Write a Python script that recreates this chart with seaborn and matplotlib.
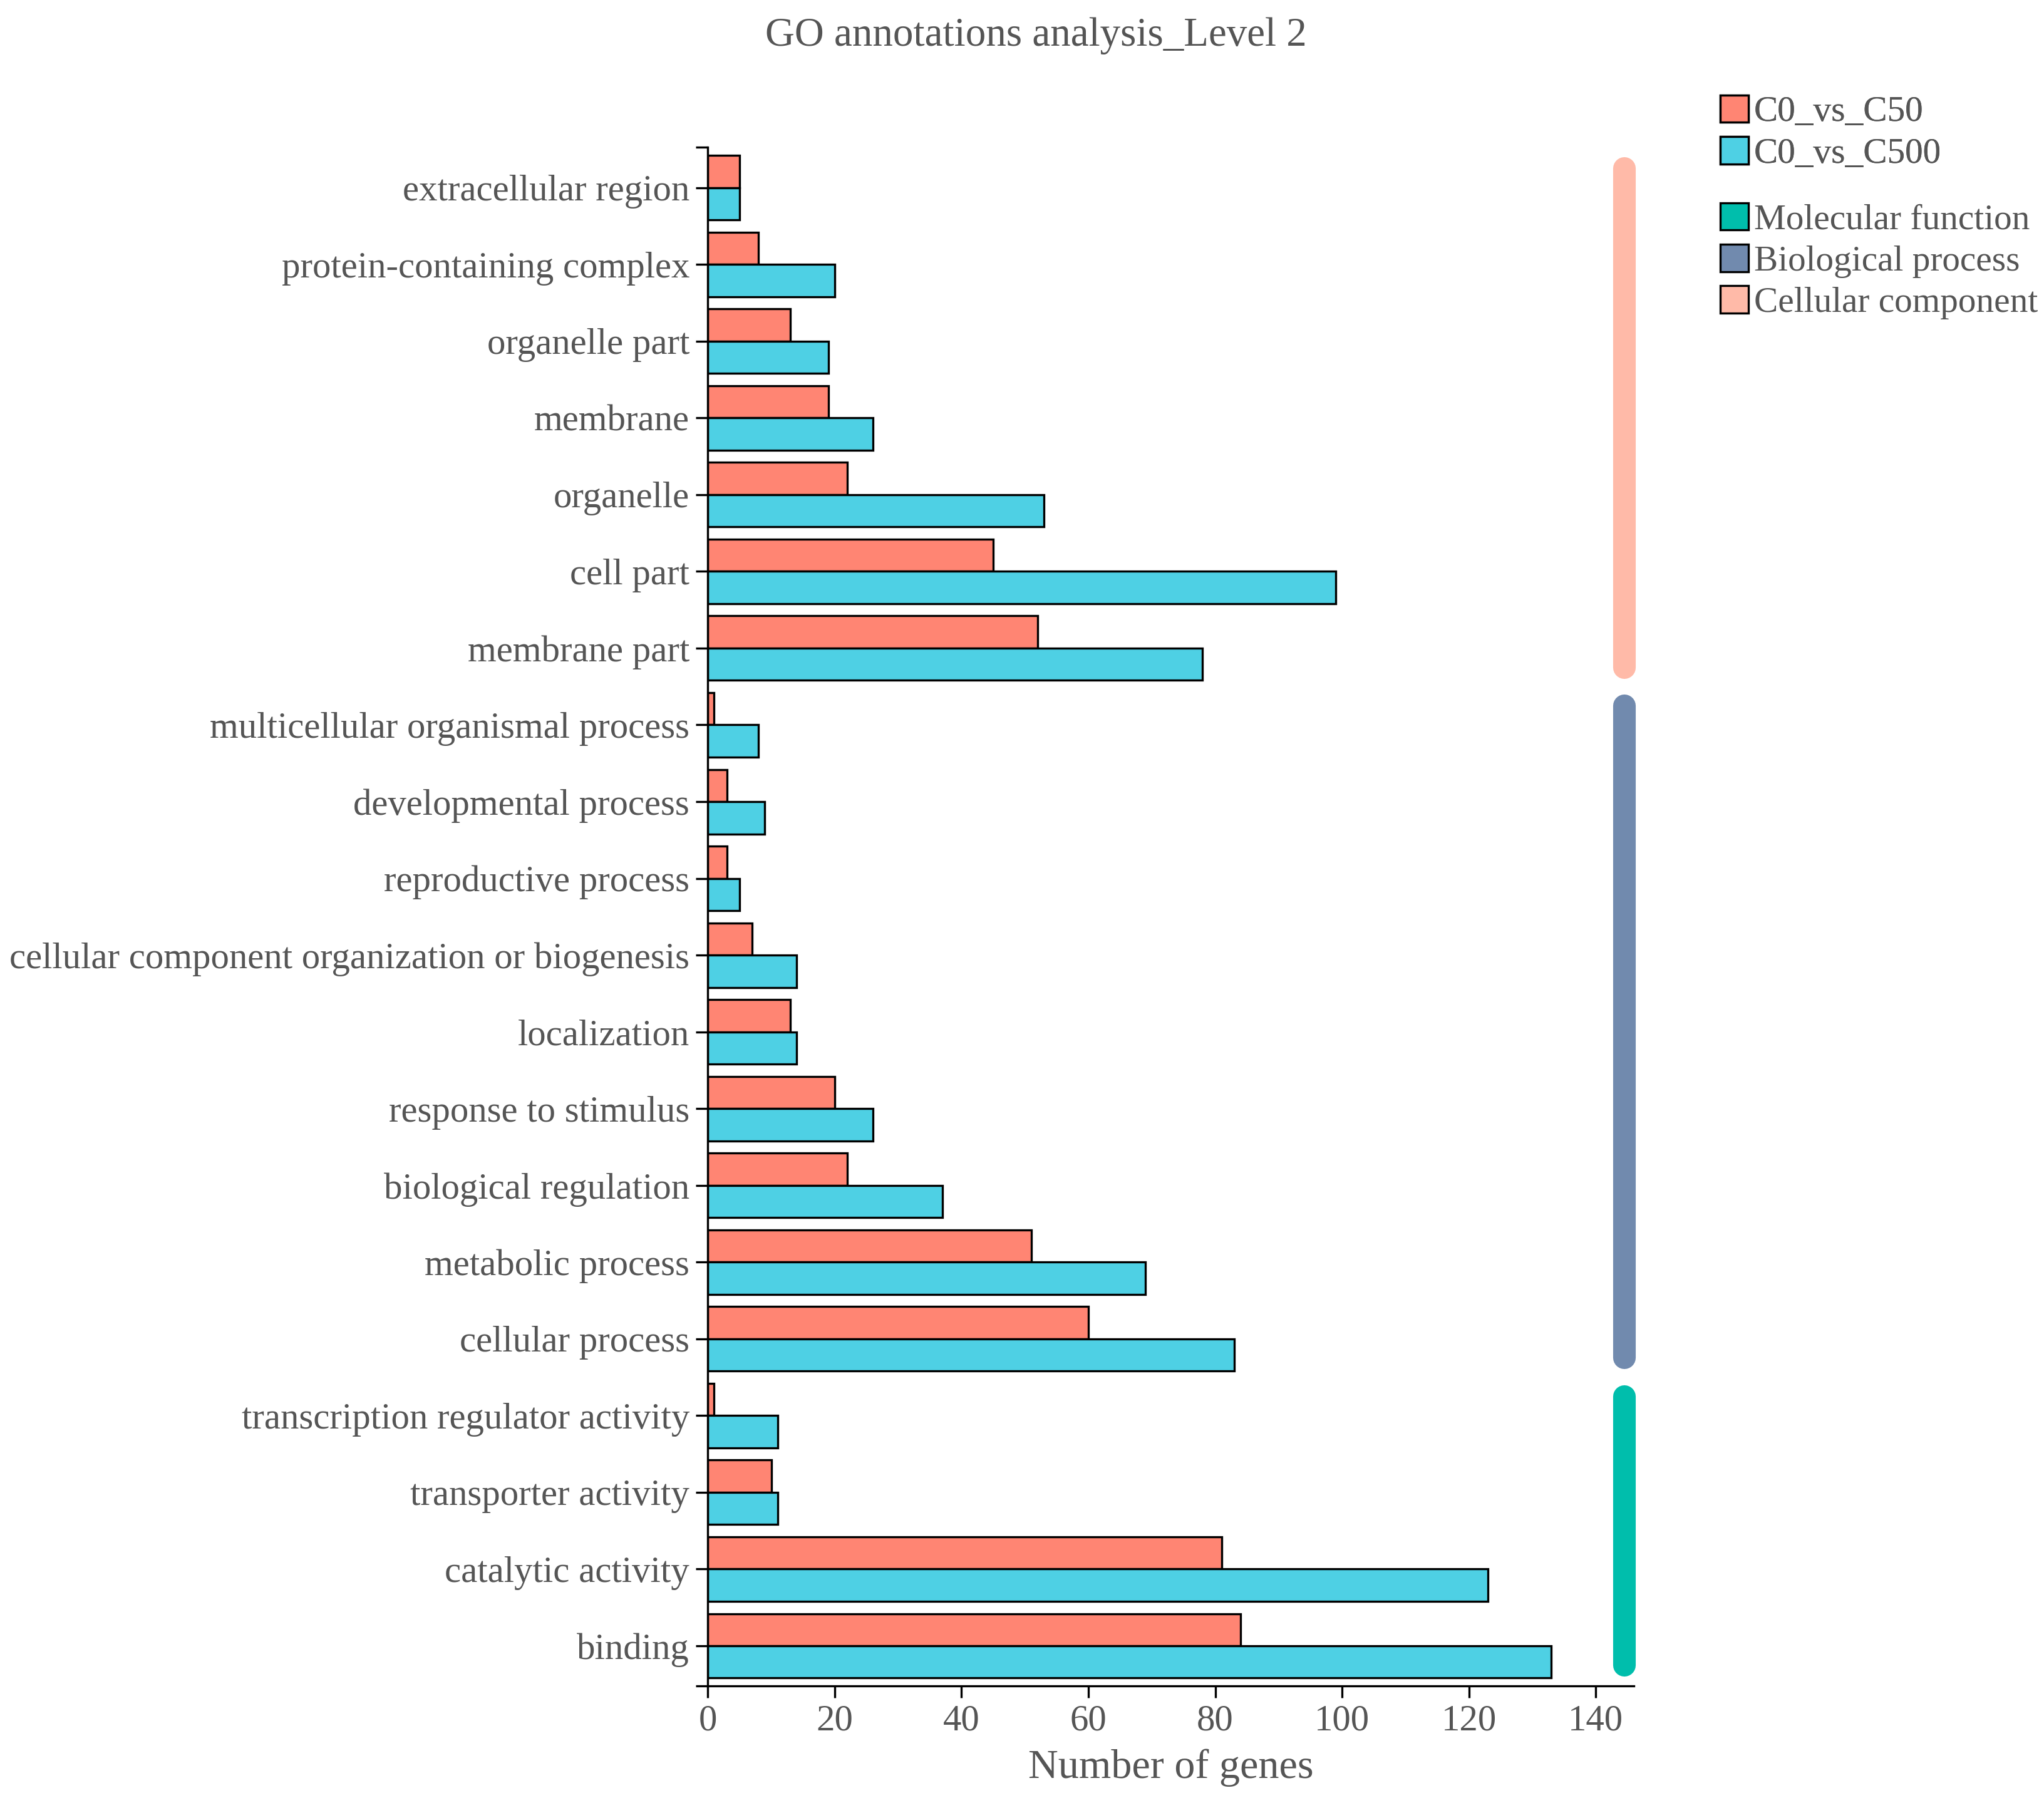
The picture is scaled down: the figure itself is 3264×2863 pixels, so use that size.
import matplotlib
matplotlib.use("Agg")
import matplotlib.pyplot as plt
import matplotlib.patches as mpatches
import seaborn as sns
import pandas as pd

# --- data ---
terms = ['extracellular region', 'protein-containing complex', 'organelle part',
         'membrane', 'organelle', 'cell part', 'membrane part',
         'multicellular organismal process', 'developmental process',
         'reproductive process', 'cellular component organization or biogenesis',
         'localization', 'response to stimulus', 'biological regulation',
         'metabolic process', 'cellular process',
         'transcription regulator activity', 'transporter activity',
         'catalytic activity', 'binding']
c50 = [5, 8, 13, 19, 22, 45, 52, 1, 3, 3, 7, 13, 20, 22, 51, 60, 1, 10, 81, 84]
c500 = [5, 20, 19, 26, 53, 99, 78, 8, 9, 5, 14, 14, 26, 37, 69, 83, 11, 11, 123, 133]
comparisons = ['C0_vs_C50', 'C0_vs_C500']
# GO class -> (first term, last term)
classes = ['Molecular function', 'Biological process', 'Cellular component']
class_spans = {'Cellular component': ('extracellular region', 'membrane part'),
               'Biological process': ('multicellular organismal process', 'cellular process'),
               'Molecular function': ('transcription regulator activity', 'binding')}

bar_colors = {'C0_vs_C50': '#FF8573', 'C0_vs_C500': '#4ED0E4'}
class_colors = {'Molecular function': '#00BEAC',
                'Biological process': '#718AAE',
                'Cellular component': '#FFBAA8'}

df = pd.DataFrame({
    'term': terms * 2,
    'count': c50 + c500,
    'group': [comparisons[0]] * len(terms) + [comparisons[1]] * len(terms),
})

sns.set_style('ticks')
plt.rcParams['font.family'] = ['Liberation Serif', 'DejaVu Serif']
grey = '#555555'

fig = plt.figure(figsize=(16.32, 14.315), dpi=200)
ax = fig.add_axes([0.3463, 0.0596, 0.4530, 0.8582])

sns.barplot(data=df, y='term', x='count', hue='group', order=terms,
            hue_order=comparisons, palette=bar_colors, saturation=1, orient='h',
            width=0.84, edgecolor='black', linewidth=1.2, ax=ax, legend=False)

ax.set_xlim(0, 146)
ax.set_ylim(len(terms) - 0.475, -0.525)
ax.set_xticks(range(0, 141, 20))
ax.set_yticks(range(len(terms)))
ax.set_yticklabels(terms)
# end ticks on the y spine
ax.set_yticks([len(terms) - 0.475, -0.525], minor=True)
ax.tick_params(axis='both', which='both', length=7, width=1.2, color='black',
               labelsize=21.2, labelcolor=grey)
ax.tick_params(axis='y', which='minor', length=7)
ax.set_xlabel('Number of genes', fontsize=23.8, color=grey, labelpad=6)
ax.set_ylabel('')
for s in ['top', 'right']:
    ax.spines[s].set_visible(False)
for s in ['left', 'bottom']:
    ax.spines[s].set_linewidth(1.2)
    ax.spines[s].set_color('black')

# GO class bars on the right
pos = {t: i for i, t in enumerate(terms)}
for cls in classes:
    a, b = class_spans[cls]
    ax.plot([144.5, 144.5], [pos[a] - 0.25, pos[b] + 0.25], color=class_colors[cls],
            lw=13, solid_capstyle='round', clip_on=False)

fig.text(0.507, 0.980, 'GO annotations analysis_Level 2', ha='center', va='center',
         fontsize=23.4, color=grey)

h1 = [mpatches.Patch(facecolor=bar_colors[c], edgecolor='black', lw=1.2) for c in comparisons]
leg1 = fig.legend(h1, comparisons, loc='upper left', bbox_to_anchor=(0.8345, 0.955),
                  frameon=False, fontsize=20.6, handlelength=0.8, handleheight=0.8,
                  handletextpad=0.15, labelspacing=0.22, borderaxespad=0, labelcolor=grey)
h2 = [mpatches.Patch(facecolor=class_colors[c], edgecolor='black', lw=1.2) for c in classes]
leg2 = fig.legend(h2, classes, loc='upper left', bbox_to_anchor=(0.8345, 0.895),
                  frameon=False, fontsize=20.6, handlelength=0.8, handleheight=0.8,
                  handletextpad=0.15, labelspacing=0.22, borderaxespad=0, labelcolor=grey)
fig.add_artist(leg1)

fig.savefig('out.png', dpi=200)
